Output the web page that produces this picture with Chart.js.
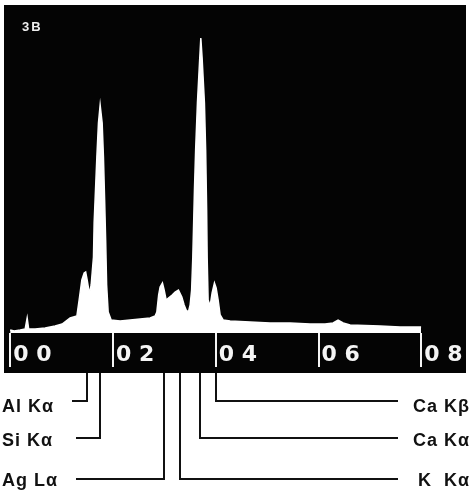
<!DOCTYPE html>
<html>
<head>
<meta charset="utf-8">
<title>EDS spectrum 3B</title>
<script src="https://cdn.jsdelivr.net/npm/chart.js@4/dist/chart.umd.min.js"></script>
<style>
  html, body { margin: 0; padding: 0; background: #ffffff; }
  canvas { display: block; }
</style>
</head>
<body>
<canvas id="spectrum" width="470" height="500"></canvas>
<script>
// energy (keV) and counts
var ENERGY_KEV = [
  0.000, 0.078, 0.195, 0.292, 0.331, 0.360, 0.486, 0.681, 0.875, 1.012,
  1.167, 1.298, 1.342, 1.395, 1.440, 1.469, 1.498, 1.543, 1.576, 1.621,
  1.634, 1.687, 1.718, 1.751, 1.790, 1.815, 1.838, 1.858, 1.877, 1.907,
  1.965, 2.140, 2.335, 2.529, 2.724, 2.821, 2.854, 2.889, 2.918, 2.963,
  2.996, 3.035, 3.080, 3.152, 3.210, 3.274, 3.340, 3.385, 3.424, 3.469,
  3.502, 3.531, 3.554, 3.586, 3.609, 3.644, 3.687, 3.710, 3.735, 3.780,
  3.804, 3.823, 3.833, 3.852, 3.891, 3.930, 3.975, 4.008, 4.047, 4.086,
  4.144, 4.280, 4.669, 5.058, 5.447, 5.837, 6.128, 6.284, 6.381, 6.479,
  6.615, 7.198, 7.588, 7.996
];
var COUNTS = [
  3, 2, 3, 4, 15, 4, 4, 5, 7, 9,
  15, 17, 33, 53, 60, 61, 53, 39, 48, 76,
  110, 176, 210, 228, 210, 176, 133, 93, 48, 21,
  13, 12, 13, 14, 15, 17, 21, 38, 46, 50,
  43, 33, 35, 38, 41, 43, 36, 28, 23, 21,
  28, 43, 76, 143, 183, 230, 273, 295, 275, 230,
  183, 123, 76, 33, 27, 40, 50, 45, 33, 18,
  13, 12, 11, 10, 10, 9, 9, 10, 13, 10,
  8, 7, 6, 6
];
var TICK_VALUES = [0, 2, 4, 6, 8];
var TICK_LABELS = ['0 0', '0 2', '0 4', '0 6', '0 8'];
var PEAK_NAMES = ['Al Kα', 'Si Kα', 'Ag Lα', 'K  Kα', 'Ca Kα', 'Ca Kβ'];
var PEAK_KEV = [1.487, 1.740, 2.984, 3.314, 3.692, 4.013];
var PANEL_TAG = '3B';

(function () {
  var canvas = document.getElementById('spectrum');
  var PANEL = { left: 4, top: 5, right: 466, bottom: 373 };

  // one leader per peak, same order as PEAK_NAMES
  var LEADERS = [
    { side: 'left', lineY: 401, baseY: 411.5, stub: 72 },
    { side: 'left', lineY: 438, baseY: 446, stub: 76 },
    { side: 'left', lineY: 479, baseY: 486, stub: 76 },
    { side: 'right', lineY: 479, baseY: 485.5, stub: 398 },
    { side: 'right', lineY: 438, baseY: 445.5, stub: 398 },
    { side: 'right', lineY: 401, baseY: 412, stub: 398 }
  ];

  var points = ENERGY_KEV.map(function (e, i) {
    return { x: e, y: COUNTS[i] };
  });

  var panelPlugin = {
    id: 'panel',
    beforeDraw: function (chart) {
      var ctx = chart.ctx;
      ctx.save();
      ctx.fillStyle = '#ffffff';
      ctx.fillRect(0, 0, chart.width, chart.height);
      ctx.fillStyle = '#040404';
      ctx.fillRect(PANEL.left, PANEL.top, PANEL.right - PANEL.left, PANEL.bottom - PANEL.top);
      ctx.fillStyle = '#eeeeee';
      ctx.font = 'bold 13px "Liberation Sans", Arial, sans-serif';
      ctx.letterSpacing = '2px';
      ctx.textBaseline = 'alphabetic';
      ctx.fillText(PANEL_TAG, 22, 31);
      ctx.restore();
    },
    afterDraw: function (chart) {
      var ctx = chart.ctx;
      var xScale = chart.scales.x;
      ctx.save();
      ctx.strokeStyle = '#111111';
      ctx.fillStyle = '#111111';
      ctx.lineWidth = 2;
      ctx.lineJoin = 'miter';
      ctx.font = 'bold 18px "Liberation Sans", Arial, sans-serif';
      ctx.letterSpacing = '1px';
      ctx.textBaseline = 'alphabetic';

      PEAK_KEV.forEach(function (kev, i) {
        var leader = LEADERS[i];
        var px = Math.round(xScale.getPixelForValue(kev));
        ctx.beginPath();
        ctx.moveTo(leader.stub, leader.lineY);
        ctx.lineTo(px, leader.lineY);
        ctx.lineTo(px, PANEL.bottom);
        ctx.stroke();

        if (leader.side === 'left') {
          ctx.textAlign = 'left';
          ctx.fillText(PEAK_NAMES[i], 2, leader.baseY);
        } else {
          ctx.textAlign = 'right';
          ctx.fillText(PEAK_NAMES[i], 470, leader.baseY);
        }
      });
      ctx.restore();
    }
  };

  new Chart(canvas, {
    type: 'line',
    data: {
      datasets: [
        {
          label: 'Counts',
          data: points,
          borderColor: '#ffffff',
          backgroundColor: '#ffffff',
          borderWidth: 1.5,
          pointRadius: 0,
          tension: 0,
          fill: 'origin'
        }
      ]
    },
    options: {
      responsive: false,
      animation: false,
      layout: {
        padding: { left: 4, right: 4, top: 5, bottom: 127 }
      },
      scales: {
        x: {
          type: 'linear',
          min: -0.12,
          max: 8.87,
          border: { display: false },
          grid: {
            drawOnChartArea: false,
            drawTicks: true,
            tickLength: 34,
            color: '#f4f4f4',
            lineWidth: 2
          },
          ticks: {
            align: 'start',
            labelOffset: 3,
            padding: -25,
            maxRotation: 0,
            autoSkip: false,
            color: '#f4f4f4',
            font: { family: '"DejaVu Sans", sans-serif', size: 22, weight: 'bold' },
            callback: function (value) {
              var idx = TICK_VALUES.indexOf(value);
              return idx === -1 ? '' : TICK_LABELS[idx];
            }
          },
          afterBuildTicks: function (scale) {
            scale.ticks = TICK_VALUES.map(function (v) {
              return { value: v };
            });
          },
          afterFit: function (scale) {
            scale.height = 40;
            scale.paddingLeft = 0;
            scale.paddingRight = 0;
          }
        },
        y: {
          display: false,
          min: 0,
          max: 328
        }
      },
      plugins: {
        legend: { display: false },
        tooltip: { enabled: false }
      }
    },
    plugins: [panelPlugin]
  });
})();
</script>
</body>
</html>
